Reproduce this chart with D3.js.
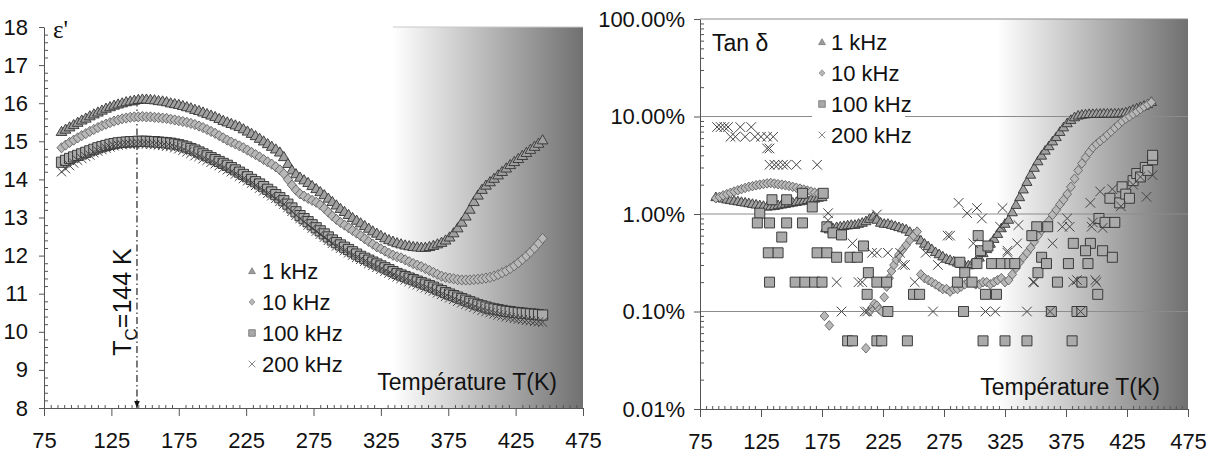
<!DOCTYPE html>
<html><head><meta charset="utf-8">
<script src="https://cdn.jsdelivr.net/npm/d3@7"></script>
<style>
body{margin:0;background:#fff}
text{font-family:"Liberation Sans Narrow","Arial Narrow","Liberation Sans",sans-serif;fill:#111}
</style></head>
<body><svg id="c" width="1211" height="455"></svg>
<script>
// ---------- DATA ----------
const xTicks = [75,125,175,225,275,325,375,425,475];
const leftYTicks = [8,9,10,11,12,13,14,15,16,17,18];
const rightYTicks = [0.01,0.1,1,10,100];
const rightYLabels = ["0.01%","0.10%","1.00%","10.00%","100.00%"];
const seriesNames = ["1 kHz","10 kHz","100 kHz","200 kHz"];

// Left panel: permittivity eps' vs T (K)
const epsT = [88,91,94,97,100,103,106,109,112,115,118,121,124,127,130,133,136,139,142,145,148,151,154,157,160,163,166,169,172,175,178,181,184,187,190,193,196,199,202,205,208,211,214,217,220,223,226,229,232,235,238,241,244,247,250,253,256,259,262,265,268,271,274,277,280,283,286,289,292,295,298,301,304,307,310,313,316,319,322,325,328,331,334,337,340,343,346,349,352,355,358,361,364,367,370,373,376,379,382,385,388,391,394,397,400,403,406,409,412,415,418,421,424,427,430,433,436,439,442,445];
const eps1k = [15.26,15.32,15.38,15.44,15.5,15.56,15.61,15.67,15.72,15.77,
15.82,15.87,15.91,15.95,15.98,16.01,16.04,16.06,16.08,16.1,
16.11,16.11,16.1,16.09,16.07,16.06,16.04,16.01,15.99,15.97,
15.94,15.91,15.88,15.84,15.81,15.77,15.73,15.69,15.65,15.6,
15.55,15.51,15.47,15.43,15.39,15.33,15.27,15.21,15.15,15.08,
15.01,14.94,14.87,14.8,14.72,14.6,14.42,14.25,14.15,14.06,
13.99,13.92,13.84,13.76,13.68,13.6,13.51,13.42,13.33,13.24,
13.16,13.08,13.0,12.93,12.86,12.79,12.72,12.65,12.59,12.53,
12.47,12.42,12.38,12.34,12.31,12.28,12.26,12.24,12.23,12.22,
12.22,12.24,12.27,12.31,12.35,12.41,12.49,12.6,12.73,12.88,
13.04,13.22,13.42,13.59,13.74,13.85,13.94,14.03,14.12,14.21,
14.3,14.39,14.47,14.55,14.63,14.71,14.79,14.87,14.95,15.04];
const eps10k = [14.83,14.9,14.97,15.03,15.09,15.15,15.2,15.26,15.31,15.36,
15.41,15.45,15.49,15.53,15.56,15.59,15.61,15.63,15.64,15.64,
15.65,15.64,15.64,15.63,15.62,15.61,15.6,15.58,15.56,15.54,
15.52,15.5,15.47,15.44,15.4,15.36,15.31,15.26,15.21,15.15,
15.09,15.03,14.98,14.93,14.88,14.83,14.77,14.71,14.65,14.59,
14.52,14.46,14.4,14.33,14.25,14.15,14.0,13.85,13.72,13.62,
13.56,13.5,13.45,13.4,13.33,13.24,13.14,13.04,12.95,12.87,
12.8,12.73,12.66,12.59,12.52,12.44,12.37,12.3,12.23,12.18,
12.12,12.06,12.01,11.97,11.94,11.89,11.84,11.79,11.75,11.71,
11.66,11.61,11.56,11.51,11.46,11.43,11.41,11.39,11.37,11.36,
11.36,11.36,11.37,11.38,11.39,11.41,11.43,11.46,11.5,11.55,
11.6,11.66,11.73,11.81,11.9,11.99,12.09,12.2,12.32,12.45];
const eps100k = [14.45,14.5,14.55,14.59,14.63,14.67,14.71,14.75,14.79,14.83,
14.86,14.89,14.92,14.94,14.96,14.97,14.98,14.99,14.99,15.0,
15.0,15.0,14.99,14.99,14.98,14.97,14.96,14.95,14.93,14.91,
14.88,14.85,14.81,14.77,14.72,14.67,14.62,14.57,14.52,14.47,
14.42,14.37,14.31,14.25,14.19,14.13,14.07,14.0,13.94,13.88,
13.81,13.74,13.67,13.6,13.52,13.44,13.35,13.25,13.15,13.05,
12.97,12.89,12.81,12.73,12.65,12.57,12.49,12.41,12.34,12.28,
12.22,12.16,12.1,12.04,11.98,11.93,11.88,11.83,11.78,11.73,
11.68,11.63,11.58,11.53,11.49,11.45,11.41,11.37,11.33,11.29,
11.25,11.21,11.17,11.12,11.08,11.03,10.99,10.95,10.91,10.87,
10.83,10.79,10.75,10.71,10.68,10.65,10.62,10.6,10.58,10.56,
10.54,10.53,10.51,10.5,10.49,10.48,10.47,10.46,10.45,10.44];
const eps200k = [14.2,14.28,14.36,14.43,14.5,14.55,14.6,14.64,14.7,14.74,
14.78,14.82,14.85,14.88,14.9,14.91,14.93,14.92,14.93,14.94,
14.93,14.93,14.92,14.91,14.9,14.89,14.87,14.86,14.83,14.8,
14.76,14.72,14.68,14.62,14.6,14.54,14.5,14.45,14.41,14.36,
14.3,14.25,14.2,14.14,14.08,14.02,13.96,13.9,13.84,13.77,
13.7,13.63,13.57,13.5,13.42,13.35,13.26,13.16,13.06,12.97,
12.89,12.8,12.72,12.64,12.56,12.48,12.4,12.32,12.25,12.19,
12.13,12.07,12.01,11.95,11.9,11.85,11.79,11.74,11.69,11.64,
11.59,11.54,11.49,11.44,11.4,11.36,11.32,11.27,11.23,11.19,
11.15,11.11,11.07,11.02,10.98,10.93,10.89,10.85,10.8,10.76,
10.72,10.68,10.64,10.6,10.56,10.53,10.5,10.47,10.44,10.42,
10.39,10.37,10.35,10.33,10.32,10.3,10.29,10.27,10.26,10.25];
const tcValue = 144;

// Right panel: tan delta (%) vs T (K)
const tan1kT = epsT;
const tan1k = [1.5,1.48,1.45,1.42,1.4,1.38,1.36,1.34,1.32,1.3,
1.28,1.26,1.24,1.22,1.2,1.21,1.22,1.24,1.26,1.28,
1.3,1.32,1.34,1.36,1.38,1.4,1.42,1.45,1.48,1.5,
0.72,0.7,0.72,0.74,0.75,0.76,0.77,0.78,0.78,0.8,
0.82,0.85,0.9,0.95,0.88,0.82,0.8,0.8,0.78,0.76,
0.74,0.72,0.7,0.66,0.62,0.58,0.54,0.5,0.47,0.44,
0.41,0.39,0.37,0.35,0.34,0.33,0.32,0.31,0.3,0.3,
0.31,0.33,0.36,0.4,0.44,0.5,0.56,0.63,0.72,0.8,
0.88,1.05,1.25,1.5,1.8,2.15,2.55,3.0,3.5,4.0,
4.5,5.0,5.6,6.2,7.0,7.8,8.6,9.3,9.9,10.3,
10.5,10.6,10.7,10.7,10.75,10.75,10.8,10.8,10.8,10.8,
10.85,10.9,11.1,11.4,11.8,12.2,12.6,13.0,13.5,14.2];
const tan10kT = [88,91,94,97,100,103,106,109,112,115,118,121,124,127,130,133,136,139,142,145,148,151,154,157,160,163,166,169,172,175,
177,181,211,214,216,218,220,222,224,
226,228,230,232,234,236,238,241,244,247,250,253,
256,259,262,265,268,271,274,277,280,283,286,289,292,295,298,301,304,307,310,313,316,319,322,325,328,331,334,337,340,343,346,349,352,355,358,361,364,367,370,373,376,379,382,385,388,391,394,397,400,403,406,409,412,415,418,421,424,427,430,433,436,439,442,445];
const tan10k = [1.45,1.5,1.55,1.6,1.65,1.7,1.75,1.8,1.85,1.9,1.93,1.97,2.0,2.03,2.06,2.08,2.05,2.02,2.0,1.97,1.94,1.9,1.86,1.82,1.78,1.74,1.7,1.66,1.62,1.6,
0.09,0.072,0.042,0.1,0.11,0.12,0.115,0.105,0.1,
0.14,0.18,0.22,0.26,0.3,0.34,0.38,0.43,0.48,0.54,0.6,0.66,
0.24,0.22,0.21,0.2,0.19,0.18,0.17,0.17,0.16,0.17,0.17,0.18,0.19,0.2,0.2,0.19,0.19,0.2,0.2,0.19,0.2,0.21,0.22,0.2,0.21,0.24,0.28,0.32,0.36,0.4,0.45,0.52,0.6,0.68,0.76,0.85,0.98,1.1,1.25,1.4,1.6,1.9,2.3,2.8,3.3,3.8,4.3,4.8,5.2,5.6,6.0,6.5,7.0,7.6,8.2,8.9,9.5,10.0,10.6,11.2,11.9,12.6,13.3,14.0];
const tan100kT = [124,122,132,146,159,142,131,139,132,153,161,169,175,134,146,159,167,176,179,184,191,171,179,187,198,204,209,213,212,220,228,229,196,200,220,224,245,250,255,286,288,292,298,303,305,311,302,314,322,329,333,309,318,291,307,325,343,351,355,352,347,359,377,393,368,388,401,363,384,388,380,360,381,395,391,405,413,402,407,411,415,419,421,424,427,430,433,436,440,442,446,446];
const tan100k = [1.02,0.81,0.81,0.81,0.81,0.58,0.4,0.4,0.2,0.2,0.2,0.2,0.2,1.4,1.4,1.63,1.18,1.63,0.74,0.64,0.61,0.4,0.4,0.36,0.36,0.36,0.47,0.25,0.15,0.2,0.2,0.1,0.05,0.05,0.05,0.05,0.05,0.15,0.15,0.2,0.32,0.25,0.2,0.6,0.42,0.47,0.31,0.31,0.31,0.31,0.31,0.15,0.15,0.1,0.05,0.05,0.05,0.74,0.36,0.25,0.6,0.31,0.31,0.31,0.2,0.2,0.15,0.1,0.1,0.1,0.05,0.74,0.5,0.5,0.42,0.42,0.36,0.9,0.82,1.45,0.82,1.3,1.9,1.6,1.45,2.2,2.6,2.4,3.0,2.8,3.6,4.0];
const tan200kT = [89,92,95,98,108,117,100,104,112,120,125,130,135,130,132,132,136,139,143,146,154,171,180,180,200,216,220,229,220,241,187,205,208,191,210,212,239,243,251,266,260,270,280,299,309,317,343,327,335,349,364,372,378,381,400,396,362,387,287,294,302,306,278,321,323,336,327,348,376,395,397,403,413,405,384,399,441,446,430,436,420];
const tan200k = [7.8,7.8,7.8,7.8,7.8,7.8,6.2,6.2,6.2,6.2,6.2,6.2,6.2,4.7,4.7,3.2,3.2,3.2,3.2,3.2,3.2,3.2,1.02,0.86,0.5,0.4,0.4,0.4,0.99,0.3,0.2,0.2,0.2,0.1,0.1,0.1,0.4,0.3,0.2,0.1,0.4,0.3,0.6,0.5,0.1,0.1,0.1,0.42,0.5,0.2,0.5,0.74,0.74,0.2,0.2,0.74,0.1,0.1,1.3,1.02,1.15,0.9,0.6,0.74,1.15,0.77,0.4,0.2,0.9,1.3,0.82,1.7,1.8,0.72,0.21,0.21,1.5,2.5,2.0,2.4,1.2];

// ---------- DRAW ----------
const svg = d3.select("#c");
const defs = svg.append("defs");
function makeGrad(id){
  const g = defs.append("linearGradient").attr("id",id).attr("x1","0%").attr("x2","100%").attr("y1","0%").attr("y2","0%");
  g.append("stop").attr("offset","0%").attr("stop-color","#ffffff");
  g.append("stop").attr("offset","100%").attr("stop-color","#707070");
}
makeGrad("gL"); makeGrad("gR");
const arrow = defs.append("marker").attr("id","arr").attr("viewBox","0 0 10 10").attr("refX",10).attr("refY",5)
  .attr("markerWidth",7).attr("markerHeight",8).attr("markerUnits","userSpaceOnUse").attr("orient","auto");
arrow.append("path").attr("d","M0,1 L10,5 L0,9 Z").attr("fill","#111");

// symbols (size = half width)
const triSym = {draw(c,r){c.moveTo(0,-r);c.lineTo(r*1.05,r*0.8);c.lineTo(-r*1.05,r*0.8);c.closePath();}};
const diaSym = {draw(c,r){c.moveTo(0,-r);c.lineTo(r*0.9,0);c.lineTo(0,r);c.lineTo(-r*0.9,0);c.closePath();}};
const sqSym  = {draw(c,r){c.rect(-r,-r,2*r,2*r);}};
const xSym   = {draw(c,r){c.moveTo(-r,-r);c.lineTo(r,r);c.moveTo(r,-r);c.lineTo(-r,r);}};
const styles = [
  {sym:triSym, fill:"#a0a0a0", stroke:"#333", sw:0.9},
  {sym:diaSym, fill:"#b8b8b8", stroke:"#626262", sw:0.9},
  {sym:sqSym,  fill:"#aaaaaa", stroke:"#2e2e2e", sw:0.9},
  {sym:xSym,   fill:"none",    stroke:"#444", sw:1.0}
];
const legStyles = [
  {sym:triSym, fill:"#9a9a9a", stroke:"#777", sw:0.7},
  {sym:diaSym, fill:"#b5b5b5", stroke:"#888", sw:0.7},
  {sym:sqSym,  fill:"#a8a8a8", stroke:"#666", sw:0.7},
  {sym:xSym,   fill:"none",    stroke:"#777", sw:0.9}
];

function drawSeries(g, xs, ys, x, y, st, r){
  g.append("g").selectAll("path").data(xs.map((t,i)=>[t,ys[i]])).join("path")
    .attr("transform",d=>`translate(${x(d[0])},${y(d[1])})`)
    .attr("d",d3.symbol().type(st.sym).size(r))
    .attr("fill",st.fill).attr("stroke",st.stroke).attr("stroke-width",st.sw);
}
function styleAxisText(g,fs){
  g.selectAll("text").style("font-family",'"Liberation Sans Narrow","Arial Narrow",sans-serif')
    .style("font-size",fs+"px").attr("fill","#111");
  g.selectAll("path,line").attr("stroke","#555");
}
function xAxisDraw(g, x, y0){
  const a = g.append("g").attr("transform",`translate(0,${y0})`);
  a.call(d3.axisBottom(x).tickValues(xTicks).tickSize(8).tickSizeOuter(0).tickPadding(16).tickFormat(d3.format("d")));
  const minor = xTicks.slice(0,-1).flatMap(t=>[1,2,3,4,5,6,7,8,9].map(k=>t+k*5));
  const m = g.append("g").attr("transform",`translate(0,${y0})`);
  m.call(d3.axisBottom(x).tickValues(minor).tickSize(-3).tickFormat(""));
  m.select(".domain").remove();
  styleAxisText(a,22); styleAxisText(m,22);
}

// ---- Left panel ----
const xL = d3.scaleLinear().domain([75,475]).range([44,583]);
const yL = d3.scaleLinear().domain([8,18]).range([408,27]);
const L = svg.append("g");
L.append("rect").attr("x",xL(334)).attr("y",yL(18)).attr("width",xL(475)-xL(334)).attr("height",yL(8)-yL(18)).attr("fill","url(#gL)");
L.append("line").attr("x1",xL(334)).attr("x2",xL(475)).attr("y1",yL(18)).attr("y2",yL(18)).attr("stroke","#c8c8c8");
// Tc marker line
L.append("line").attr("x1",xL(tcValue)).attr("x2",xL(tcValue)).attr("y1",yL(16.1)).attr("y2",yL(8))
  .attr("stroke","#111").attr("stroke-width",1.1).attr("stroke-dasharray","7,3,1.5,3").attr("marker-end","url(#arr)");
const epsSeries = [eps1k,eps10k,eps100k,eps200k];
epsSeries.forEach((s,i)=>drawSeries(L,epsT,s,xL,yL,styles[i],i===3?4.6:5.1));
// axes
xAxisDraw(L,xL,yL(8));
const ayL = L.append("g").attr("transform",`translate(${xL(75)},0)`);
ayL.call(d3.axisLeft(yL).tickValues(leftYTicks).tickSize(5).tickSizeOuter(0).tickPadding(11).tickFormat(d3.format("d")));
const myL = L.append("g").attr("transform",`translate(${xL(75)},0)`);
myL.call(d3.axisLeft(yL).tickValues(leftYTicks.slice(0,-1).flatMap(v=>[0.2,0.4,0.6,0.8].map(k=>v+k))).tickSize(-4).tickFormat(""));
myL.select(".domain").remove();
styleAxisText(ayL,22); styleAxisText(myL,22);
// labels
L.append("text").attr("x",53).attr("y",38).style("font-family",'"Liberation Serif",serif').style("font-size","25px").text("ε'");
L.append("text").attr("x",557).attr("y",390).attr("text-anchor","end").style("font-size","23px").text("Température T(K)");
const tc = L.append("text").attr("transform",`translate(131,302) rotate(-90)`).attr("text-anchor","middle")
  .style("font-family",'"Liberation Sans",Arial,sans-serif').style("font-size","25px");
tc.append("tspan").text("T");
tc.append("tspan").attr("dy",6).style("font-size","17px").text("C");
tc.append("tspan").attr("dy",-6).text("=144 K");
// legend
const legL = L.append("g");
seriesNames.forEach((n,i)=>{
  const cy = 271 + i*31;
  legL.append("path").attr("transform",`translate(252,${cy})`).attr("d",d3.symbol().type(legStyles[i].sym).size(3.3))
    .attr("fill",legStyles[i].fill).attr("stroke",legStyles[i].stroke).attr("stroke-width",legStyles[i].sw);
  legL.append("text").attr("x",262).attr("y",cy+8).style("font-size","22px").text(n);
});

// ---- Right panel ----
const xR = d3.scaleLinear().domain([75,475]).range([700,1188]);
const yR = d3.scaleLog().domain([0.01,100]).range([409,19]);
const R = svg.append("g");
R.append("rect").attr("x",xR(318)).attr("y",yR(100)).attr("width",xR(475)-xR(318)).attr("height",yR(0.01)-yR(100)).attr("fill","url(#gR)");
rightYTicks.slice(1).forEach(v=>{
  R.append("line").attr("x1",xR(75)).attr("x2",xR(475)).attr("y1",yR(v)).attr("y2",yR(v)).attr("stroke","#8c8c8c").attr("stroke-width",1);
});
// legend box
R.append("rect").attr("x",812).attr("y",24).attr("width",93).attr("height",126).attr("fill","#fff");
const tanSeries = [[tan1kT,tan1k],[tan10kT,tan10k],[tan100kT,tan100k],[tan200kT,tan200k]];
tanSeries.forEach((s,i)=>drawSeries(R,s[0],s[1],xR,yR,styles[i],i===2?5:4.8));
xAxisDraw(R,xR,yR(0.01));
const ayR = R.append("g").attr("transform",`translate(${xR(75)},0)`);
ayR.call(d3.axisLeft(yR).tickValues(rightYTicks).tickSize(6).tickSizeOuter(0).tickPadding(9).tickFormat((d,i)=>rightYLabels[i]));
const minorLog = [0.01,0.1,1,10].flatMap(b=>[2,3,4,5,6,7,8,9].map(k=>b*k));
const myR = R.append("g").attr("transform",`translate(${xR(75)},0)`);
myR.call(d3.axisLeft(yR).tickValues(minorLog).tickSize(-4).tickFormat(""));
myR.select(".domain").remove();
styleAxisText(ayR,22); styleAxisText(myR,22);
R.append("text").attr("x",712).attr("y",51).style("font-size","23px").text("Tan δ");
R.append("text").attr("x",1160).attr("y",395).attr("text-anchor","end").style("font-size","23px").text("Température T(K)");
const legR = R.append("g");
seriesNames.forEach((n,i)=>{
  const cy = 42 + i*31;
  legR.append("path").attr("transform",`translate(822,${cy})`).attr("d",d3.symbol().type(legStyles[i].sym).size(3.3))
    .attr("fill",legStyles[i].fill).attr("stroke",legStyles[i].stroke).attr("stroke-width",legStyles[i].sw);
  legR.append("text").attr("x",831).attr("y",cy+8).style("font-size","22px").text(n);
});
</script></body></html>
